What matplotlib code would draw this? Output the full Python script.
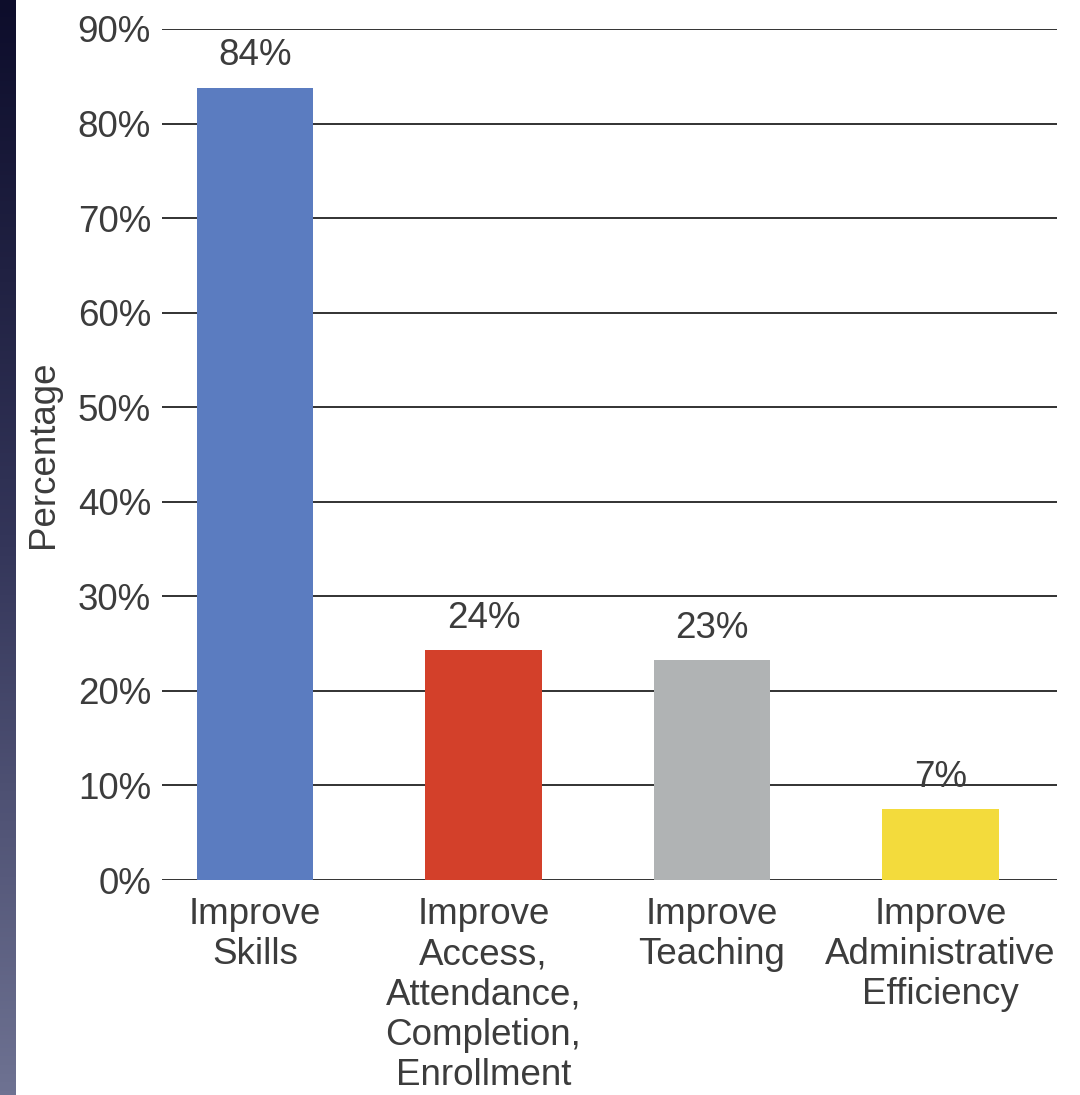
import numpy as np
import matplotlib
matplotlib.use("Agg")
import matplotlib.pyplot as plt
from matplotlib.colors import LinearSegmentedColormap

categories = ["Improve\nSkills",
              "Improve\nAccess,\nAttendance,\nCompletion,\nEnrollment",
              "Improve\nTeaching",
              "Improve\nAdministrative\nEfficiency"]
heights = [83.8, 24.3, 23.3, 7.5]
labels = ["84%", "24%", "23%", "7%"]
colors = ["#5b7cc0", "#d3402a", "#b0b3b4", "#f3db3c"]
yticks = [0, 10, 20, 30, 40, 50, 60, 70, 80, 90]

TXT = "#3c3c3c"
FS = 26.5
plt.rcParams["font.family"] = ["Liberation Sans", "DejaVu Sans"]

fig = plt.figure(figsize=(10.8, 10.95), dpi=100)
fig.patch.set_facecolor("white")

# dark strip at the left edge
strip = fig.add_axes([0, 0, 16 / 1080, 1])
cmap = LinearSegmentedColormap.from_list("strip", ["#0d0d2b", "#34365a", "#6e7292"])
strip.imshow(np.linspace(0, 1, 256).reshape(-1, 1), aspect="auto", cmap=cmap)
strip.axis("off")

ax = fig.add_axes([162 / 1080, 1 - 880 / 1095, (1057 - 162) / 1080, (880 - 29) / 1095])
x = np.arange(len(categories))
ax.bar(x, heights, width=0.51, color=colors, zorder=3)
for xi, h, lab in zip(x, heights, labels):
    ax.text(xi, h + 1.5, lab, ha="center", va="bottom", fontsize=FS, color=TXT)

ax.set_xlim(-0.407, 3.51)
ax.set_ylim(0, 90)
ax.set_yticks(yticks)
ax.set_yticklabels([f"{t}%" for t in yticks])
ax.set_xticks(x)
ax.set_xticklabels(categories, linespacing=1.2)
ax.tick_params(axis="y", length=0, pad=8, labelsize=FS, labelcolor=TXT)
ax.tick_params(axis="x", length=0, pad=12, labelsize=FS, labelcolor=TXT)
ax.yaxis.grid(True, color="#222222", linewidth=1.3, zorder=1)
for s in ax.spines.values():
    s.set_visible(False)
ax.set_ylabel("Percentage", fontsize=FS, color=TXT, labelpad=12)

fig.savefig("out.png", dpi=100)
